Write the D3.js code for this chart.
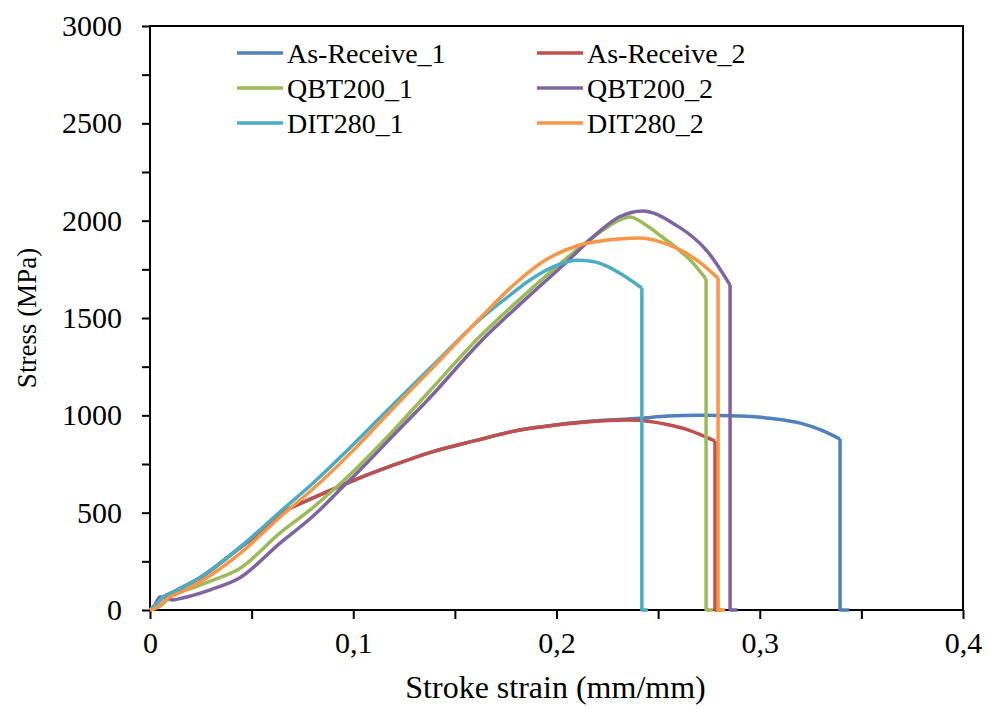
<!DOCTYPE html>
<meta charset="utf-8">
<script src="https://d3js.org/d3.v7.min.js"></script>
<style>
body { margin: 0; background: #fff; }
svg text { font-family: "Liberation Serif", serif; fill: #000; }
</style>
<div id="my_dataviz"></div>
<script>

// series names and colours (Excel 2010 palette)
var names = ["As-Receive_1", "As-Receive_2", "QBT200_1", "QBT200_2", "DIT280_1", "DIT280_2"];
var colors = ["#4F81BD", "#C0504D", "#9BBB59", "#8064A2", "#4BACC6", "#F79646"];

// [strain, stress]; last 3 points = fracture drop
var asReceive1 = [[0,0],[0.003,30],[0.006,62],[0.012,95],[0.025,168],[0.044,318],[0.055,405],[0.064,495],
  [0.07,528],[0.08,575],[0.1,665],[0.12,745],[0.138,810],[0.16,870],[0.182,925],[0.2,952],[0.215,968],
  [0.241,985],[0.255,996],[0.27,1000],[0.29,997],[0.305,985],[0.32,960],[0.33,925],[0.3395,878],
  [0.3395,0],[0.344,0]];
var asReceive2 = [[0,0],[0.003,30],[0.006,62],[0.012,95],[0.025,168],[0.044,318],[0.055,405],[0.064,495],
  [0.07,528],[0.08,575],[0.1,665],[0.12,745],[0.138,810],[0.16,870],[0.182,925],[0.2,950],[0.215,966],
  [0.235,976],[0.245,970],[0.255,952],[0.264,928],[0.271,900],[0.278,868],[0.278,0],[0.281,0]];
var qbt200_1 = [[0,0],[0.005,20],[0.011,77],[0.02,110],[0.03,150],[0.044,212],[0.064,396],[0.08,525],
  [0.09,615],[0.1,712],[0.12,925],[0.138,1130],[0.162,1402],[0.187,1644],[0.205,1808],[0.22,1930],
  [0.231,2003],[0.236,2019],[0.244,1978],[0.252,1916],[0.259,1860],[0.266,1795],[0.2736,1700],
  [0.2736,0],[0.277,0]];
var qbt200_2 = [[0,0],[0.002,20],[0.005,67],[0.008,63],[0.011,52],[0.016,62],[0.03,105],[0.044,164],
  [0.064,344],[0.08,480],[0.097,655],[0.1,685],[0.12,900],[0.138,1094],[0.162,1372],[0.187,1618],
  [0.205,1788],[0.22,1935],[0.231,2020],[0.2426,2050],[0.25,2030],[0.258,1982],[0.266,1925],
  [0.274,1845],[0.2854,1669],[0.2854,0],[0.289,0]];
var dit280_1 = [[0,0],[0.003,30],[0.006,62],[0.012,95],[0.025,170],[0.044,320],[0.064,505],[0.08,650],
  [0.1,850],[0.12,1060],[0.14,1265],[0.162,1490],[0.175,1600],[0.187,1695],[0.2,1770],[0.21,1797],
  [0.218,1790],[0.225,1765],[0.231,1731],[0.242,1654],[0.242,0],[0.245,0]];
var dit280_2 = [[0,0],[0.004,15],[0.009,62],[0.015,90],[0.03,180],[0.044,288],[0.064,478],[0.08,620],
  [0.1,820],[0.12,1040],[0.14,1255],[0.162,1495],[0.18,1680],[0.195,1800],[0.21,1870],[0.231,1906],
  [0.241,1911],[0.25,1895],[0.261,1849],[0.27,1790],[0.2795,1705],[0.2795,0],[0.283,0]];
var series = [asReceive1, asReceive2, qbt200_1, qbt200_2, dit280_1, dit280_2];

var xTicks = [0, 0.1, 0.2, 0.3, 0.4];
var yTicks = [0, 500, 1000, 1500, 2000, 2500, 3000];

var margin = {top: 26, right: 25, bottom: 99, left: 150},
    width = 988 - margin.left - margin.right,
    height = 709 - margin.top - margin.bottom;

var svg = d3.select("#my_dataviz")
  .append("svg")
    .attr("width", 988)
    .attr("height", 709)
  .append("g")
    .attr("transform", "translate(" + margin.left + "," + margin.top + ")");

var x = d3.scaleLinear().domain([0, 0.4]).range([0, width]);
var y = d3.scaleLinear().domain([0, 3000]).range([height, 0]);

// minor ticks
var xMinor = svg.append("g")
  .attr("transform", "translate(0," + height + ")")
  .call(d3.axisBottom(x).tickValues(d3.range(0, 0.41, 0.05)).tickSize(9).tickFormat(""));
var yMinor = svg.append("g")
  .call(d3.axisLeft(y).tickValues(d3.range(0, 3001, 250)).tickSize(8).tickFormat(""));
[xMinor, yMinor].forEach(function (g) {
  g.select(".domain").remove();
  g.selectAll("line").attr("stroke", "#000").attr("stroke-width", 2);
});

// labelled ticks
var fmt = function (d) { return d === 0 ? "0" : d3.format(".1f")(d).replace(".", ","); };
var xAxis = svg.append("g")
  .attr("transform", "translate(0," + height + ")")
  .call(d3.axisBottom(x).tickValues(xTicks).tickSize(0).tickPadding(22).tickFormat(fmt));
var yAxis = svg.append("g")
  .call(d3.axisLeft(y).tickValues(yTicks).tickSize(0).tickPadding(28).tickFormat(d3.format("d")));
[xAxis, yAxis].forEach(function (g) {
  g.attr("font-family", null);
  g.select(".domain").remove();
  g.selectAll("text").style("font-size", "30px");
});

// frame
svg.append("rect")
  .attr("width", width).attr("height", height)
  .attr("fill", "none").attr("stroke", "#000").attr("stroke-width", 2);

// lines: smooth loading part, then straight fracture drop
var smooth = d3.line()
  .x(function (d) { return x(d[0]); })
  .y(function (d) { return y(d[1]); })
  .curve(d3.curveMonotoneX);
var straight = d3.line()
  .x(function (d) { return x(d[0]); })
  .y(function (d) { return y(d[1]); });

var curves = svg.append("g")
  .selectAll("g")
  .data(series)
  .enter()
  .append("g")
    .attr("fill", "none")
    .attr("stroke", function (d, i) { return colors[i]; })
    .attr("stroke-width", 3.5)
    .attr("stroke-linejoin", "round");
curves.append("path")
  .attr("d", function (d) { return smooth(d.slice(0, d.length - 2)); });
curves.append("path")
  .attr("d", function (d) { return straight(d.slice(d.length - 3)); });

// legend
var legend = svg.append("g")
  .selectAll("g")
  .data(names)
  .enter()
  .append("g")
    .attr("transform", function (d, i) {
      return "translate(" + (87 + (i % 2) * 300) + "," + (27 + Math.floor(i / 2) * 35) + ")";
    });
legend.append("line")
  .attr("x1", 0).attr("x2", 46)
  .attr("stroke", function (d, i) { return colors[i]; })
  .attr("stroke-width", 3.5);
legend.append("text")
  .attr("x", 50)
  .attr("dy", "0.35em")
  .style("font-size", "28px")
  .text(function (d) { return d; });

// axis titles
svg.append("text")
  .attr("x", width / 2 - 1)
  .attr("y", height + 88)
  .attr("text-anchor", "middle")
  .style("font-size", "32px")
  .text("Stroke strain (mm/mm)");

svg.append("text")
  .attr("transform", "rotate(-90)")
  .attr("x", -height / 2)
  .attr("y", -114)
  .attr("text-anchor", "middle")
  .style("font-size", "27px")
  .text("Stress (MPa)");

</script>
